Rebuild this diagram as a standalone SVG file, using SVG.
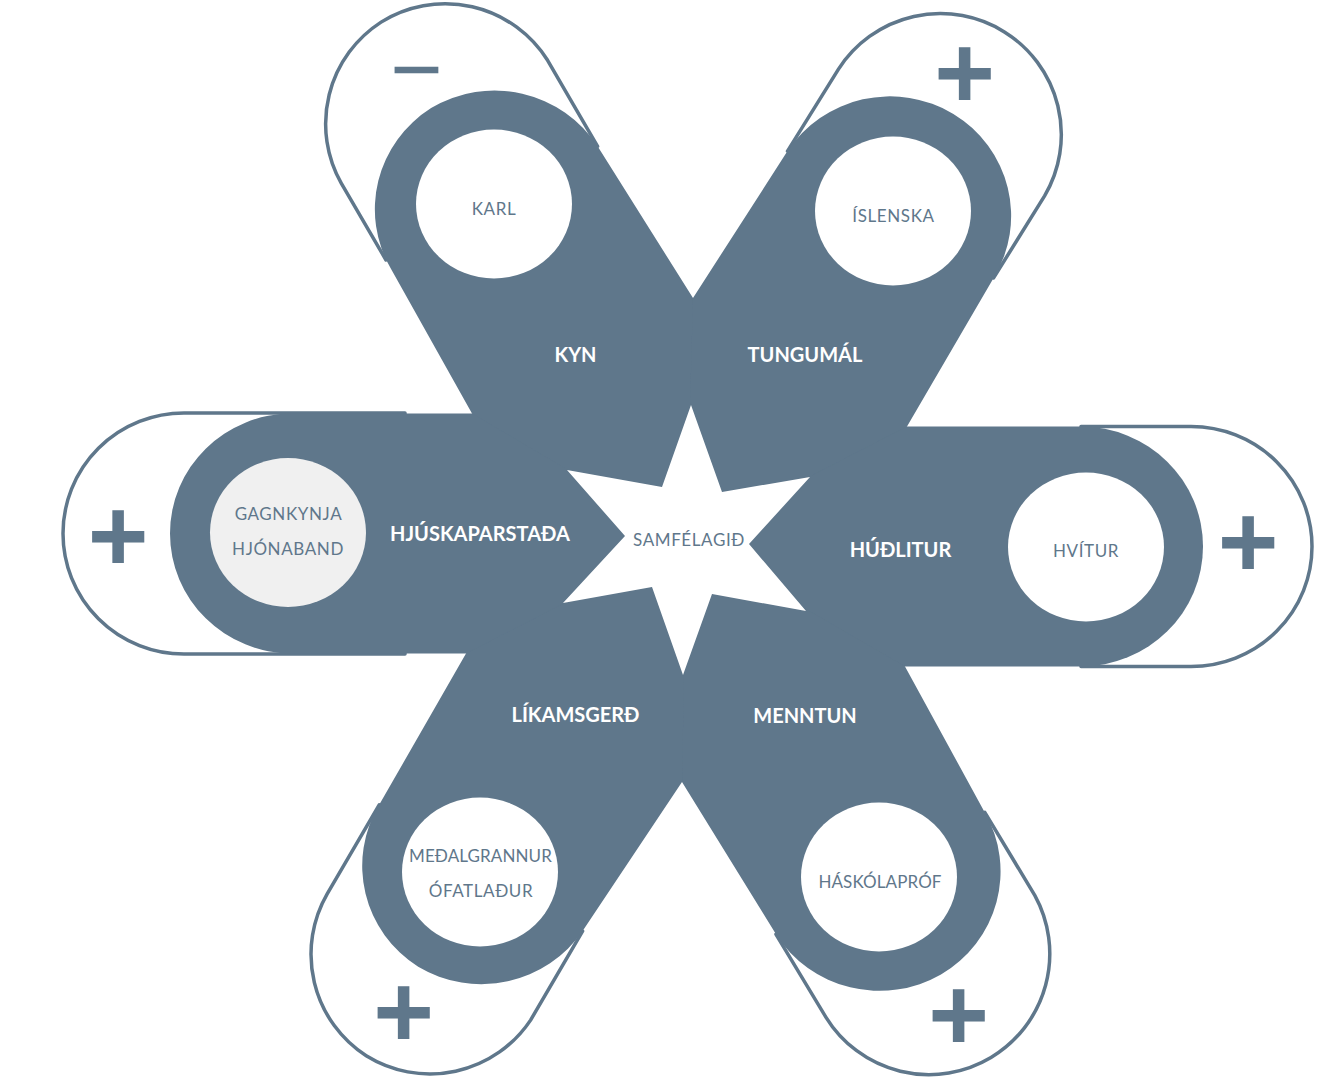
<svg xmlns="http://www.w3.org/2000/svg" width="1337" height="1079" viewBox="0 0 1337 1079">
<style>
.ol{fill:#fff;stroke:#5f778b;stroke-width:3.5;stroke-linejoin:round}
.arm{fill:#5f778b}
.hole{fill:#fff}
.hole2{fill:#f0f0f0}
.lbl{font-family:Lato,"Open Sans","Liberation Sans",sans-serif;font-weight:700;font-size:20px;fill:#fff;text-anchor:middle}
.val{font-family:Lato,"Open Sans","Liberation Sans",sans-serif;font-size:17px;letter-spacing:0.6px;fill:#5f778b;text-anchor:middle}
.tight{letter-spacing:0.1px}
.sign{font-family:"Liberation Sans",Arial,sans-serif;font-weight:700;font-size:104px;fill:#5f778b;text-anchor:middle}
.minus{font-family:"Liberation Sans",Arial,sans-serif;font-size:90px;fill:#5f778b;text-anchor:middle}
</style>
<rect width="1337" height="1079" fill="#fff"/>
<g id="connectors"></g>
<g id="hub">
<polygon class="arm" points="693,298 907,426.5 905,666.5 682,782 466,653.5 472,413.5"/>
</g>
<g id="node-kyn">
<path class="ol" d="M386,260 L341.2,183.2 A121,121 0 0 1 381.1,22.1 A121,121 0 0 1 547.6,60.3 L597.6,146.3 L493,212 Z"/>
<path class="arm" d="M391.2,269.2 A122,120 0 0 1 431.1,108.1 A122,120 0 0 1 597.6,146.3 L693,298 L686.5,540 L472,413.5 Z"/>
<ellipse class="hole" cx="494" cy="204" rx="78" ry="74.5"/>
<text class="val" x="494" y="215">KARL</text>
<text class="lbl" x="575.5" y="362">KYN</text>
<text class="minus" x="416.5" y="100">−</text>
</g>
<g id="node-tungumal">
<path class="ol" d="M787.5,151.1 L838.5,69.1 A121,121 0 0 1 1004.4,31.9 A121,121 0 0 1 1044.6,195.9 L993.6,277.9 L890,217 Z"/>
<path class="arm" d="M787.5,151.1 A122,120 0 0 1 953.4,113.9 A122,120 0 0 1 993.6,277.9 L907,426.5 L686.5,540 L693,298 Z"/>
<ellipse class="hole" cx="893" cy="211" rx="78" ry="74.5"/>
<text class="val" x="893.5" y="222">ÍSLENSKA</text>
<text class="lbl" x="805" y="362">TUNGUMÁL</text>
<text class="sign" x="964.5" y="108">+</text>
</g>
<g id="node-hudlitur">
<path class="ol" d="M1081,426.5 L1191,426.5 A121,120 0 0 1 1312,546.5 A121,120 0 0 1 1191,666.5 L1081,666.5 Z"/>
<path class="arm" d="M1081,426.5 A122,120 0 0 1 1203,546.5 A122,120 0 0 1 1081,666.5 L905,666.5 L686.5,540 L907,426.5 Z"/>
<ellipse class="hole" cx="1086" cy="547" rx="78" ry="74.5"/>
<text class="val" x="1086" y="556.7">HVÍTUR</text>
<text class="lbl" x="900.5" y="557">HÚÐLITUR</text>
<text class="sign" x="1248" y="577">+</text>
</g>
<g id="node-menntun">
<path class="ol" d="M984.8,812.4 L1034.8,895.4 A121,121 0 0 1 991,1057.5 A121,121 0 0 1 826,1017.3 L776,934.3 L880,870 Z"/>
<path class="arm" d="M984.8,812.4 A122,120 0 0 1 941,974.5 A122,120 0 0 1 776,934.3 L682,782 L686.5,540 L905,666.5 Z"/>
<ellipse class="hole" cx="879" cy="877" rx="78" ry="74.5"/>
<text class="val tight" x="880" y="888">HÁSKÓLAPRÓF</text>
<text class="lbl" x="805" y="723">MENNTUN</text>
<text class="sign" x="958.5" y="1050">+</text>
</g>
<g id="node-likamsgerd">
<path class="ol" d="M582.6,931.1 L530.6,1020.1 A121,121 0 0 1 366.2,1055.8 A121,121 0 0 1 327.2,893.8 L379.2,804.8 L482,864 Z"/>
<path class="arm" d="M582.6,931.1 A122,120 0 0 1 418.2,966.8 A122,120 0 0 1 379.2,804.8 L466,653.5 L686.5,540 L682,782 Z"/>
<ellipse class="hole" cx="480" cy="872" rx="78" ry="74.5"/>
<text class="val tight" x="480.5" y="862">MEÐALGRANNUR</text>
<text class="val" x="481" y="897">ÓFATLAÐUR</text>
<text class="lbl" x="575.5" y="722">LÍKAMSGERÐ</text>
<text class="sign" x="403.5" y="1047">+</text>
</g>
<g id="node-hjuskaparstada">
<path class="ol" d="M405,654 L184,654 A121,120.5 0 0 1 63,533.5 A121,120.5 0 0 1 184,413 L405,413 Z"/>
<path class="arm" d="M292,653.5 A122,120 0 0 1 170,533.5 A122,120 0 0 1 292,413.5 L472,413.5 L686.5,540 L466,653.5 Z"/>
<ellipse class="hole2" cx="288" cy="532.5" rx="78" ry="74.5"/>
<text class="val" x="288.5" y="520">GAGNKYNJA</text>
<text class="val" x="288" y="555">HJÓNABAND</text>
<text class="lbl" x="480" y="541">HJÚSKAPARSTAÐA</text>
<text class="sign" x="118" y="571">+</text>
</g>
<g id="node-samfelagid">
<polygon fill="#fff" points="691,405 722,492 810,477 749,544 806,611 712,594 683,675 652,587 563,603 625,536 567,470 662,487"/>
<text class="val" x="689" y="546">SAMFÉLAGIÐ</text>
</g>
</svg>
